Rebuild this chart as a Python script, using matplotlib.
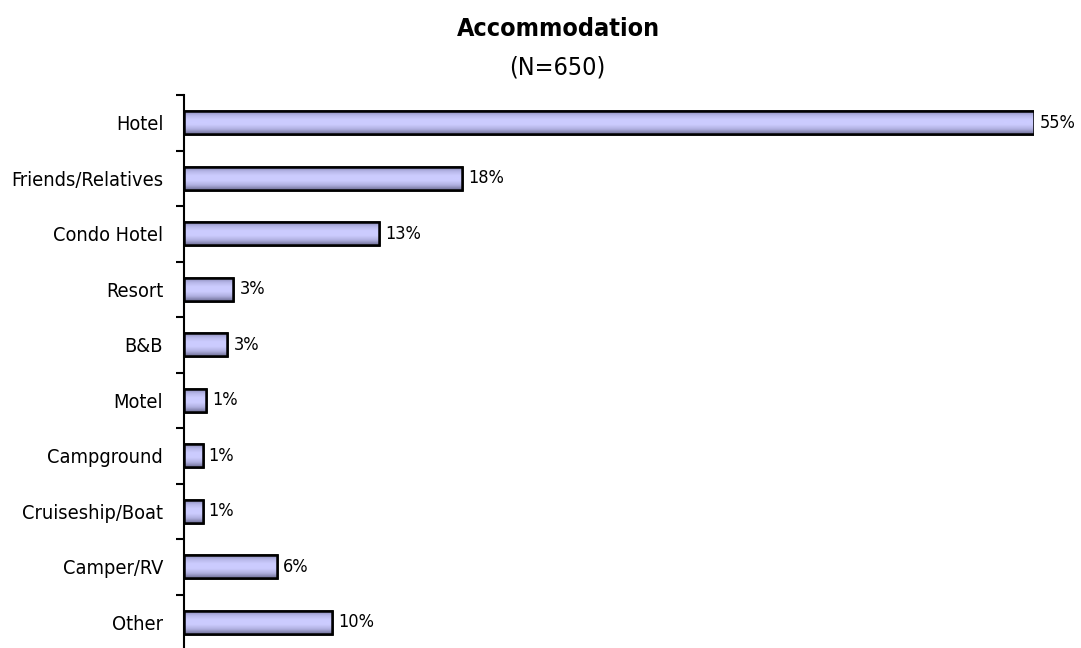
import matplotlib.pyplot as plt
import numpy as np
from matplotlib.colors import LinearSegmentedColormap

# Data
categories = ['Hotel', 'Friends/Relatives', 'Condo Hotel', 'Resort', 'B&B',
              'Motel', 'Campground', 'Cruiseship/Boat', 'Camper/RV', 'Other']
values = [55.0, 18.0, 12.6, 3.2, 2.8, 1.4, 1.2, 1.2, 6.0, 9.6]
title = 'Accommodation'
subtitle = '(N=650)'

# condensed sans to look like the narrow font of the original
plt.rcParams['font.family'] = ['DejaVu Sans']
plt.rcParams['font.stretch'] = 'condensed'

fig = plt.figure(figsize=(10.81, 6.48), dpi=100)
ax = fig.add_axes([184 / 1081, -2 / 648, 850 / 1081, 555 / 648])

y = np.arange(len(categories))
bars = ax.barh(y, values, height=0.42, color='#ccccff',
               edgecolor='black', linewidth=1.8, zorder=3)

# vertical shading inside each bar
cmap = LinearSegmentedColormap.from_list(
    'bar', ['#7a7aa8', '#b4b4e6', '#ccccff', '#ccccff', '#b0b0e0', '#707098'])
grad = np.linspace(0, 1, 64).reshape(-1, 1)
for b in bars:
    x0, y0 = b.get_x(), b.get_y()
    w, h = b.get_width(), b.get_height()
    im = ax.imshow(grad, cmap=cmap, aspect='auto', zorder=3.5,
                   extent=(x0, x0 + w, y0 + h, y0), interpolation='bicubic')
    im.set_clip_path(b)
    ax.add_patch(plt.Rectangle((x0, y0), w, h, fill=False,
                               edgecolor='black', linewidth=1.8, zorder=4))

# data labels
for yi, v in zip(y, values):
    ax.text(v + 0.4, yi, f'{v:.0f}%', va='center', ha='left',
            fontsize=13, clip_on=False)

ax.set_xlim(0, 55)
ax.set_ylim(len(categories) - 0.5, -0.5)

ax.set_yticks(y)
ax.set_yticklabels(categories, fontsize=14.3)
ax.tick_params(axis='y', which='major', length=0, pad=15)
ax.set_yticks(np.arange(len(categories) + 1) - 0.5, minor=True)
ax.tick_params(axis='y', which='minor', length=6, width=1.5, direction='out')
ax.set_xticks([])

for s in ['top', 'right', 'bottom']:
    ax.spines[s].set_visible(False)
ax.spines['left'].set_linewidth(1.5)

fig.text(0.517, 1 - 36 / 648, title, ha='center', va='baseline',
         fontsize=18, fontweight='bold')
fig.text(0.516, 1 - 75 / 648, subtitle, ha='center', va='baseline',
         fontsize=18)

fig.savefig('out.png', dpi=100)
